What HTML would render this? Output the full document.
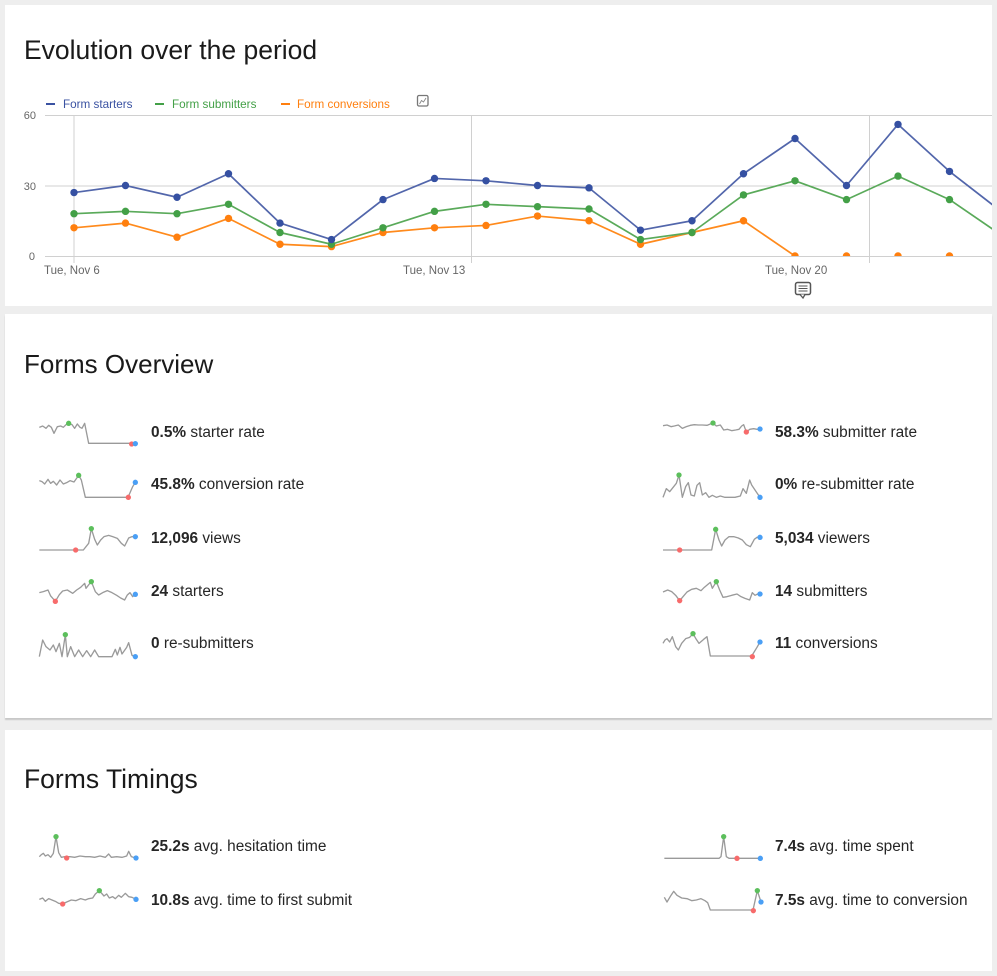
<!DOCTYPE html>
<html><head><meta charset="utf-8"><style>
html,body{margin:0;padding:0;background:#eeeeee;}
body{width:997px;height:976px;position:relative;overflow:hidden;font-family:"Liberation Sans",sans-serif;}
.p{position:absolute;background:#fff;left:5px;width:987px;}
svg{position:absolute;left:0;top:0;}
</style></head><body>
<div class="p" style="top:5px;height:301px;"></div>
<div class="p" style="top:314px;height:404px;box-shadow:0 2px 1px #c8c8c8;"></div>
<div class="p" style="top:730px;height:241px;"></div>
<svg width="997" height="976" viewBox="0 0 997 976" xmlns="http://www.w3.org/2000/svg" font-family="Liberation Sans, sans-serif">
<defs>
<clipPath id="pc"><rect x="40" y="100" width="952" height="156"/></clipPath>
</defs>
<!-- Titles -->
<text x="24" y="59" font-size="26.5" fill="#1a1a1a">Evolution over the period</text>
<text x="24" y="373" font-size="26" fill="#1a1a1a">Forms Overview</text>
<text x="24" y="788" font-size="26.5" fill="#1a1a1a">Forms Timings</text>

<!-- Legend -->
<g font-size="11.7">
<rect x="46" y="103" width="9" height="2" fill="#3a52a2"/>
<text x="63" y="108" fill="#3a52a2">Form starters</text>
<rect x="155" y="103" width="9" height="2" fill="#43a047"/>
<text x="172" y="108" fill="#43a047">Form submitters</text>
<rect x="281" y="103" width="9" height="2" fill="#ff7f0e"/>
<text x="297" y="108" fill="#ff7f0e">Form conversions</text>
</g>
<rect x="417.5" y="95.5" width="10.5" height="10.5" rx="1.5" fill="#fff" stroke="#777" stroke-width="1.3"/>
<polyline points="419.5,104 421.5,100.5 423.5,102 426,98" fill="none" stroke="#888" stroke-width="0.9"/>

<!-- Grid -->
<g stroke="#d0d0d0" stroke-width="1">
<line x1="45" y1="115.5" x2="992" y2="115.5"/>
<line x1="45" y1="186" x2="992" y2="186"/>
<line x1="45" y1="256.5" x2="992" y2="256.5"/>
<line x1="74" y1="115" x2="74" y2="263"/>
<line x1="471.5" y1="115" x2="471.5" y2="263"/>
<line x1="869.5" y1="115" x2="869.5" y2="263"/>
</g>
<g font-size="11" fill="#666" text-anchor="end">
<text x="36" y="119">60</text>
<text x="36" y="190">30</text>
<text x="35" y="260">0</text>
</g>
<g font-size="11.5" fill="#666">
<text x="44" y="274">Tue, Nov 6</text>
<text x="403" y="274">Tue, Nov 13</text>
<text x="765" y="274">Tue, Nov 20</text>
</g>
<!-- comment icon -->
<rect x="795.5" y="282.5" width="15" height="12" rx="2" fill="#fff" stroke="#555" stroke-width="1.5"/>
<path d="M800 294.5 L803 298 L805 294.5" fill="#fff" stroke="#555" stroke-width="1.3"/>
<g stroke="#555" stroke-width="1"><line x1="798.5" y1="286" x2="807.5" y2="286"/><line x1="798.5" y1="288.5" x2="807.5" y2="288.5"/><line x1="798.5" y1="291" x2="807.5" y2="291"/></g>

<!-- Series -->
<g clip-path="url(#pc)">
<polyline fill="none" stroke="#ff8a1c" stroke-width="1.7" stroke-linejoin="round" points="74,227.8 125.5,223.1 177,237.2 228.5,218.4 280,244.25 331.5,246.6 383,232.5 434.5,227.8 486,225.45 537.5,216.05 589,220.75 640.5,244.25 692,232.5 743.5,220.75 795,256"/>
<g fill="#ff7f0e">
<circle cx="74" cy="227.8" r="3.7"/><circle cx="125.5" cy="223.1" r="3.7"/><circle cx="177" cy="237.2" r="3.7"/><circle cx="228.5" cy="218.4" r="3.7"/><circle cx="280" cy="244.25" r="3.7"/><circle cx="331.5" cy="246.6" r="3.7"/><circle cx="383" cy="232.5" r="3.7"/><circle cx="434.5" cy="227.8" r="3.7"/><circle cx="486" cy="225.45" r="3.7"/><circle cx="537.5" cy="216.05" r="3.7"/><circle cx="589" cy="220.75" r="3.7"/><circle cx="640.5" cy="244.25" r="3.7"/><circle cx="692" cy="232.5" r="3.7"/><circle cx="743.5" cy="220.75" r="3.7"/><circle cx="795" cy="256" r="3.7"/><circle cx="846.5" cy="256" r="3.7"/><circle cx="898" cy="256" r="3.7"/><circle cx="949.5" cy="256" r="3.7"/>
</g>
<polyline fill="none" stroke="#5aaa5a" stroke-width="1.7" stroke-linejoin="round" points="74,213.7 125.5,211.35 177,213.7 228.5,204.3 280,232.5 331.5,244.25 383,227.8 434.5,211.35 486,204.3 537.5,206.65 589,209 640.5,239.55 692,232.5 743.5,194.9 795,180.8 846.5,199.6 898,176.1 949.5,199.6 1001,234.85"/>
<g fill="#43a047">
<circle cx="74" cy="213.7" r="3.7"/><circle cx="125.5" cy="211.35" r="3.7"/><circle cx="177" cy="213.7" r="3.7"/><circle cx="228.5" cy="204.3" r="3.7"/><circle cx="280" cy="232.5" r="3.7"/><circle cx="331.5" cy="244.25" r="3.7"/><circle cx="383" cy="227.8" r="3.7"/><circle cx="434.5" cy="211.35" r="3.7"/><circle cx="486" cy="204.3" r="3.7"/><circle cx="537.5" cy="206.65" r="3.7"/><circle cx="589" cy="209" r="3.7"/><circle cx="640.5" cy="239.55" r="3.7"/><circle cx="692" cy="232.5" r="3.7"/><circle cx="743.5" cy="194.9" r="3.7"/><circle cx="795" cy="180.8" r="3.7"/><circle cx="846.5" cy="199.6" r="3.7"/><circle cx="898" cy="176.1" r="3.7"/><circle cx="949.5" cy="199.6" r="3.7"/>
</g>
<polyline fill="none" stroke="#5266ab" stroke-width="1.7" stroke-linejoin="round" points="74,192.55 125.5,185.5 177,197.25 228.5,173.75 280,223.1 331.5,239.55 383,199.6 434.5,178.45 486,180.8 537.5,185.5 589,187.85 640.5,230.15 692,220.75 743.5,173.75 795,138.5 846.5,185.5 898,124.4 949.5,171.4 1001,211.35"/>
<g fill="#3550a2">
<circle cx="74" cy="192.55" r="3.7"/><circle cx="125.5" cy="185.5" r="3.7"/><circle cx="177" cy="197.25" r="3.7"/><circle cx="228.5" cy="173.75" r="3.7"/><circle cx="280" cy="223.1" r="3.7"/><circle cx="331.5" cy="239.55" r="3.7"/><circle cx="383" cy="199.6" r="3.7"/><circle cx="434.5" cy="178.45" r="3.7"/><circle cx="486" cy="180.8" r="3.7"/><circle cx="537.5" cy="185.5" r="3.7"/><circle cx="589" cy="187.85" r="3.7"/><circle cx="640.5" cy="230.15" r="3.7"/><circle cx="692" cy="220.75" r="3.7"/><circle cx="743.5" cy="173.75" r="3.7"/><circle cx="795" cy="138.5" r="3.7"/><circle cx="846.5" cy="185.5" r="3.7"/><circle cx="898" cy="124.4" r="3.7"/><circle cx="949.5" cy="171.4" r="3.7"/>
</g>
</g>

<!-- Sparklines: Overview left (origin 30,410, zoom units /3) -->
<g transform="translate(30,410) scale(0.33333)" fill="none" stroke="#9a9a9a" stroke-width="4" stroke-linejoin="round">
<polyline points="28,52 38,48 48,55 56,46 64,52 72,70 82,50 92,48 100,52 108,44 116,40 126,44 134,55 142,42 150,52 156,55 164,40 176,100 304,100 316,101"/>
<polyline points="28,212 36,215 44,222 54,208 62,220 70,214 80,225 90,210 100,222 110,218 120,212 132,216 146,196 154,210 166,262 294,262 308,230 316,217"/>
<polyline points="28,420 134,420 160,420 176,400 184,356 194,388 202,405 212,390 222,380 236,376 248,380 262,385 274,400 284,408 296,384 306,380 316,380"/>
<polyline points="28,548 40,545 54,540 62,558 76,574 88,554 98,543 112,540 128,550 140,540 152,532 164,520 168,535 178,522 184,515 196,545 206,555 218,548 232,542 246,548 260,556 272,564 284,570 292,555 300,548 308,560 316,553"/>
<polyline points="28,740 38,690 48,710 60,720 70,705 78,725 88,700 96,740 106,674 112,740 122,710 134,740 146,720 158,740 170,722 182,740 194,720 206,740 220,740 246,740 256,718 262,735 270,712 276,732 290,712 296,698 306,736 316,740"/>
<g stroke="none">
<circle cx="116" cy="40" r="8" fill="#5cbf5c"/><circle cx="305" cy="102" r="8" fill="#f76b6b"/><circle cx="316" cy="101" r="8" fill="#4a9ff5"/>
<circle cx="146" cy="196" r="8" fill="#5cbf5c"/><circle cx="295" cy="262" r="8" fill="#f76b6b"/><circle cx="316" cy="217" r="8" fill="#4a9ff5"/>
<circle cx="184" cy="356" r="8" fill="#5cbf5c"/><circle cx="137" cy="420" r="8" fill="#f76b6b"/><circle cx="316" cy="380" r="8" fill="#4a9ff5"/>
<circle cx="184" cy="515" r="8" fill="#5cbf5c"/><circle cx="76" cy="574" r="8" fill="#f76b6b"/><circle cx="316" cy="553" r="8" fill="#4a9ff5"/>
<circle cx="106" cy="674" r="8" fill="#5cbf5c"/><circle cx="316" cy="740" r="8" fill="#4a9ff5"/>
</g>
</g>
<!-- Overview right (origin 655,410) -->
<g transform="translate(655,410) scale(0.33333)" fill="none" stroke="#9a9a9a" stroke-width="4" stroke-linejoin="round">
<polyline points="24,47 36,45 48,50 58,48 70,45 82,55 94,50 106,46 118,44 130,45 142,45 156,46 166,42 174,39 184,48 196,45 206,60 218,58 230,62 242,60 252,58 260,48 266,44 274,66 284,58 296,56 306,58 315,57"/>
<polyline points="24,262 34,236 44,245 56,230 64,220 72,195 82,262 92,230 100,218 108,255 118,258 126,226 134,218 142,255 152,248 162,262 172,256 184,262 196,258 210,262 240,262 256,258 264,236 274,250 284,210 290,225 300,240 315,262"/>
<polyline points="24,420 74,420 170,420 182,358 192,390 200,408 210,390 222,380 236,380 250,384 262,390 274,404 286,410 298,388 306,382 315,382"/>
<polyline points="24,546 38,540 50,545 62,556 74,572 84,560 96,546 110,538 124,535 138,542 148,532 160,522 166,517 172,535 184,515 194,540 204,562 216,560 230,556 246,552 258,560 270,565 284,570 292,548 300,556 308,552 315,552"/>
<polyline points="24,700 30,690 36,686 44,696 52,680 62,710 70,720 80,700 92,686 104,682 114,671 122,685 132,700 146,688 156,680 166,738 290,738 306,712 315,696"/>
<g stroke="none">
<circle cx="174" cy="39" r="8" fill="#5cbf5c"/><circle cx="274" cy="66" r="8" fill="#f76b6b"/><circle cx="315" cy="57" r="8" fill="#4a9ff5"/>
<circle cx="72" cy="195" r="8" fill="#5cbf5c"/><circle cx="315" cy="262" r="8" fill="#4a9ff5"/>
<circle cx="182" cy="358" r="8" fill="#5cbf5c"/><circle cx="74" cy="420" r="8" fill="#f76b6b"/><circle cx="315" cy="382" r="8" fill="#4a9ff5"/>
<circle cx="184" cy="515" r="8" fill="#5cbf5c"/><circle cx="74" cy="572" r="8" fill="#f76b6b"/><circle cx="315" cy="552" r="8" fill="#4a9ff5"/>
<circle cx="114" cy="671" r="8" fill="#5cbf5c"/><circle cx="292" cy="740" r="8" fill="#f76b6b"/><circle cx="315" cy="696" r="8" fill="#4a9ff5"/>
</g>
</g>
<!-- Timings left (origin 30,820) -->
<g transform="translate(30,820) scale(0.33333)" fill="none" stroke="#9a9a9a" stroke-width="4" stroke-linejoin="round">
<polyline points="28,110 34,104 40,100 46,108 54,104 62,112 70,100 78,50 86,98 94,112 104,110 120,110 134,112 150,108 166,110 180,110 194,112 210,108 226,112 236,102 244,112 260,110 276,112 290,108 296,94 304,110 316,114"/>
<polyline points="28,238 38,234 46,244 56,236 66,240 76,244 86,250 98,252 110,246 124,240 138,242 152,236 166,240 176,236 188,234 196,222 208,212 222,228 230,222 238,234 248,230 256,236 266,226 274,232 286,220 296,230 306,232 318,238"/>
<g stroke="none">
<circle cx="78" cy="50" r="8" fill="#5cbf5c"/><circle cx="110" cy="114" r="8" fill="#f76b6b"/><circle cx="318" cy="114" r="8" fill="#4a9ff5"/>
<circle cx="208" cy="212" r="8" fill="#5cbf5c"/><circle cx="98" cy="252" r="8" fill="#f76b6b"/><circle cx="318" cy="238" r="8" fill="#4a9ff5"/>
</g>
</g>
<!-- Timings right (origin 655,820) -->
<g transform="translate(655,820) scale(0.33333)" fill="none" stroke="#9a9a9a" stroke-width="4" stroke-linejoin="round">
<polyline points="28,115 192,115 198,110 206,50 214,110 222,115 246,115 296,115 316,115"/>
<polyline points="28,232 36,246 48,226 56,214 66,226 80,234 96,236 110,242 124,240 138,236 150,242 158,248 166,270 294,270 307,212 318,246"/>
<g stroke="none">
<circle cx="206" cy="50" r="8" fill="#5cbf5c"/><circle cx="246" cy="115" r="8" fill="#f76b6b"/><circle cx="316" cy="115" r="8" fill="#4a9ff5"/>
<circle cx="307" cy="212" r="8" fill="#5cbf5c"/><circle cx="295" cy="272" r="8" fill="#f76b6b"/><circle cx="318" cy="246" r="8" fill="#4a9ff5"/>
</g>
</g>

<!-- Metric texts -->
<g font-size="15.4" fill="#262626">
<text x="151" y="437"><tspan font-weight="bold">0.5%</tspan> starter rate</text>
<text x="151" y="489"><tspan font-weight="bold">45.8%</tspan> conversion rate</text>
<text x="151" y="543"><tspan font-weight="bold">12,096</tspan> views</text>
<text x="151" y="596"><tspan font-weight="bold">24</tspan> starters</text>
<text x="151" y="648"><tspan font-weight="bold">0</tspan> re-submitters</text>
<text x="775" y="437"><tspan font-weight="bold">58.3%</tspan> submitter rate</text>
<text x="775" y="489"><tspan font-weight="bold">0%</tspan> re-submitter rate</text>
<text x="775" y="543"><tspan font-weight="bold">5,034</tspan> viewers</text>
<text x="775" y="596"><tspan font-weight="bold">14</tspan> submitters</text>
<text x="775" y="648"><tspan font-weight="bold">11</tspan> conversions</text>
<text x="151" y="851"><tspan font-weight="bold">25.2s</tspan> avg. hesitation time</text>
<text x="151" y="905"><tspan font-weight="bold">10.8s</tspan> avg. time to first submit</text>
<text x="775" y="851"><tspan font-weight="bold">7.4s</tspan> avg. time spent</text>
<text x="775" y="905"><tspan font-weight="bold">7.5s</tspan> avg. time to conversion</text>
</g>
</svg>
</body></html>
